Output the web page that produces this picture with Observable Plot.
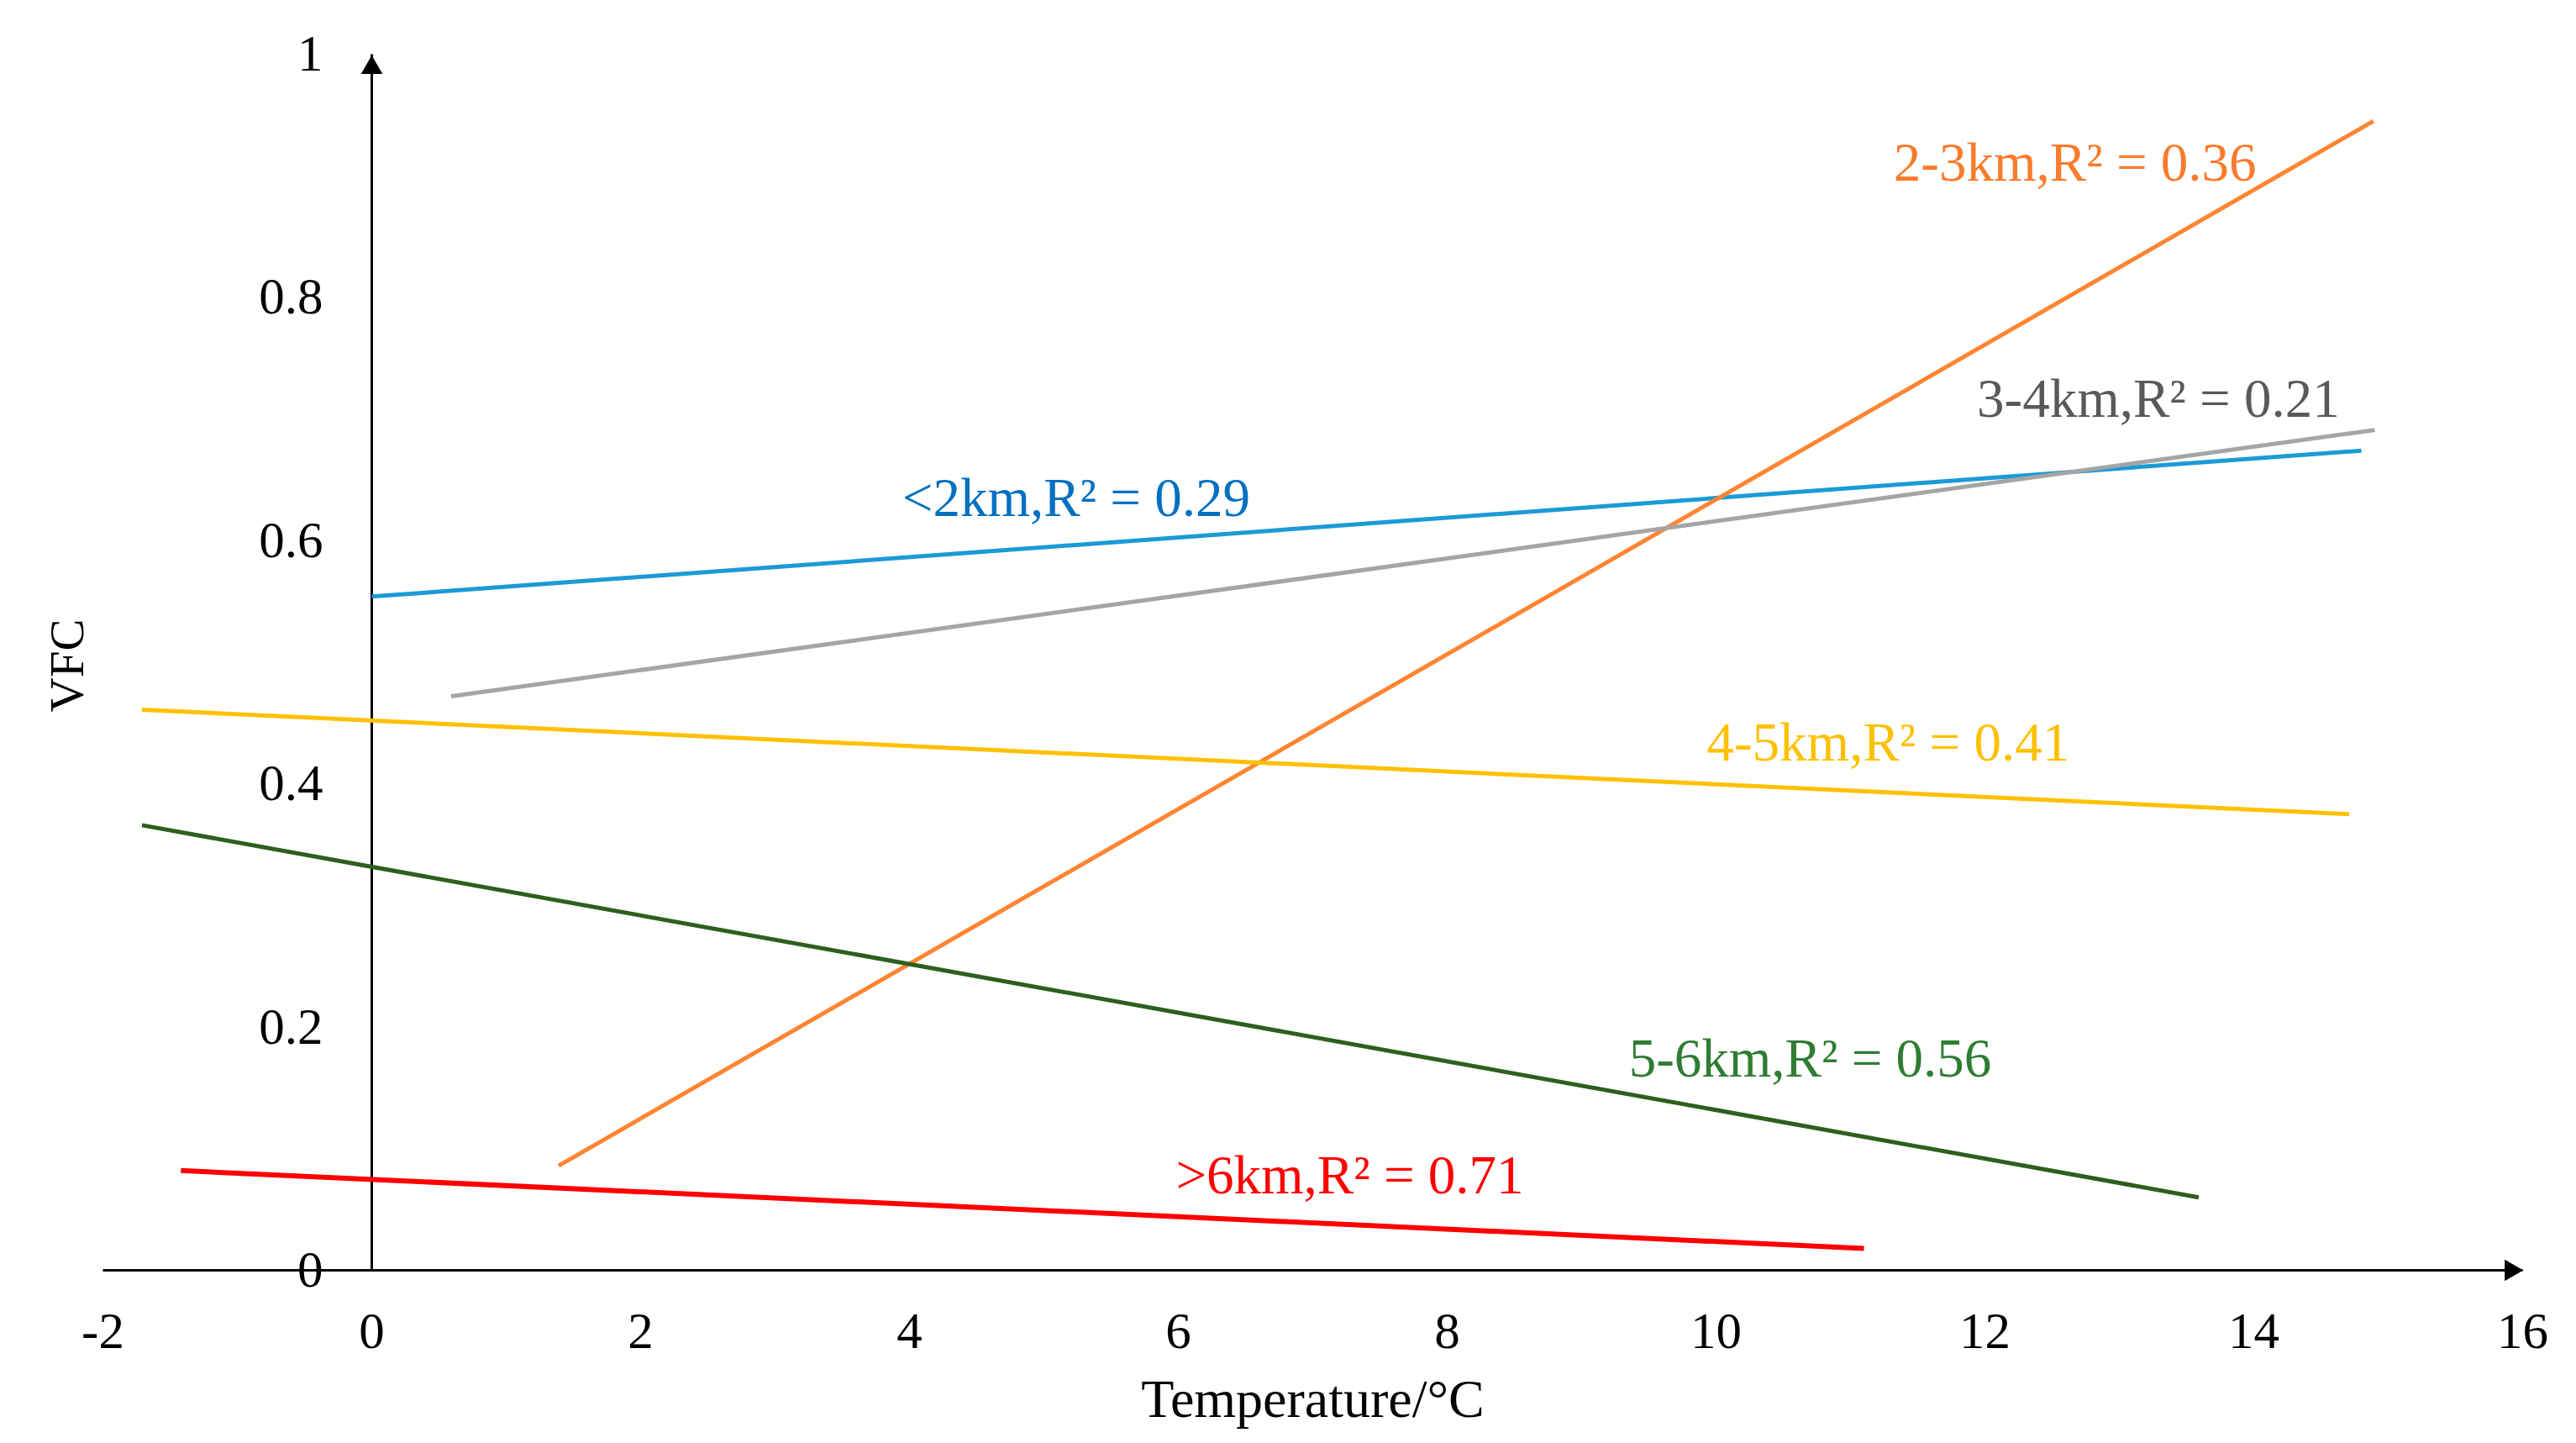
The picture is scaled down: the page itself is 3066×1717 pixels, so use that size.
<!DOCTYPE html>
<html>
<head>
<meta charset="utf-8">
<script src="https://cdn.jsdelivr.net/npm/d3@7"></script>
<script src="https://cdn.jsdelivr.net/npm/@observablehq/plot@0.6"></script>
<style>
  html, body { margin: 0; padding: 0; background: #ffffff; }
</style>
</head>
<body>
<div id="chart"></div>
<script>
// ---- data ----
const series = ["<2km", "2-3km", "3-4km", "4-5km", "5-6km", ">6km"];
const r2 = [0.29, 0.36, 0.21, 0.41, 0.56, 0.71];
const tempStart = [0, 1.39, 0.59, -1.71, -1.71, -1.42];
const tempEnd = [14.8, 14.89, 14.9, 14.71, 13.59, 11.1];
const vfcStart = [0.554, 0.086, 0.472, 0.461, 0.366, 0.082];
const vfcEnd = [0.674, 0.945, 0.691, 0.375, 0.060, 0.018];
const labelTemp = [5.24, 12.67, 13.29, 11.28, 10.70, 7.275];
const labelVfc = [0.62, 0.896, 0.702, 0.419, 0.159, 0.063];
const lineColors = ["#1B9AD6", "#FF8533", "#A5A5A5", "#FFC000", "#2D5F1E", "#FF0000"];
const textColors = ["#0070C0", "#F97B2C", "#595959", "#FFC000", "#2E7D32", "#FF0000"];
const xTicks = [-2, 0, 2, 4, 6, 8, 10, 12, 14, 16];
const yTicks = [0, 0.2, 0.4, 0.6, 0.8, 1];
const xLabel = "Temperature/°C";
const yLabel = "VFC";

// ---- tables built from the arrays ----
const segs = series.map((s, i) => ({
  s, x1: tempStart[i], x2: tempEnd[i], y1: vfcStart[i], y2: vfcEnd[i],
  color: lineColors[i], w: s === ">6km" ? 6 : 5
}));
const labels = series.map((s, i) => ({
  text: `${s},R² = ${r2[i].toFixed(2)}`, x: labelTemp[i], y: labelVfc[i], color: textColors[i]
}));
const xMin = xTicks[0], xMax = xTicks[xTicks.length - 1];
const yMin = yTicks[0], yMax = yTicks[yTicks.length - 1];

const chart = Plot.plot({
  width: 3066,
  height: 1717,
  marginLeft: 122,
  marginRight: 64,
  marginTop: 64,
  marginBottom: 206,
  style: { fontFamily: "'Liberation Serif', 'Times New Roman', serif", fontSize: "60px", background: "#ffffff", color: "#000" },
  x: { domain: [xMin, xMax], axis: null },
  y: { domain: [yMin, yMax], axis: null },
  marks: [
    // axis lines
    Plot.link([{x1: xMin, y1: 0, x2: xMax, y2: 0}], {x1: "x1", y1: "y1", x2: "x2", y2: "y2", stroke: "#000", strokeWidth: 3}),
    Plot.link([{x1: 0, y1: yMin, x2: 0, y2: yMax}], {x1: "x1", y1: "y1", x2: "x2", y2: "y2", stroke: "#000", strokeWidth: 3}),
    // arrow heads
    Plot.dot([{x: xMax, y: 0}], {x: "x", y: "y", symbol: "triangle", r: 9.5, fill: "#000", stroke: "none", rotate: 90, dx: -14}),
    Plot.dot([{x: 0, y: yMax}], {x: "x", y: "y", symbol: "triangle", r: 9.5, fill: "#000", stroke: "none", rotate: 0, dy: 16}),
    // ticks & labels
    Plot.axisX({ticks: xTicks, tickSize: 0, tickPadding: 49, tickFormat: d => String(d), label: null, fontSize: 61}),
    Plot.text(yTicks, {x: () => 0, y: d => d, text: d => String(d), textAnchor: "end", dx: -58, fontSize: 61, fill: "#000"}),
    Plot.text([xLabel], {frameAnchor: "bottom", lineAnchor: "middle", textAnchor: "middle", dy: 154, text: d => d, fontSize: 64, fill: "#000"}),
    Plot.text([yLabel], {frameAnchor: "left", lineAnchor: "middle", textAnchor: "middle", dx: -42, dy: 4, rotate: -90, text: d => d, fontSize: 57, fill: "#000"}),
    // trend lines
    Plot.link(segs, {x1: "x1", y1: "y1", x2: "x2", y2: "y2", stroke: "color", strokeWidth: "w"}),
    // annotations
    Plot.text(labels, {x: "x", y: "y", text: "text", fill: "color", lineAnchor: "bottom", fontSize: 65})
  ]
});
document.getElementById("chart").appendChild(chart);
</script>
</body>
</html>
